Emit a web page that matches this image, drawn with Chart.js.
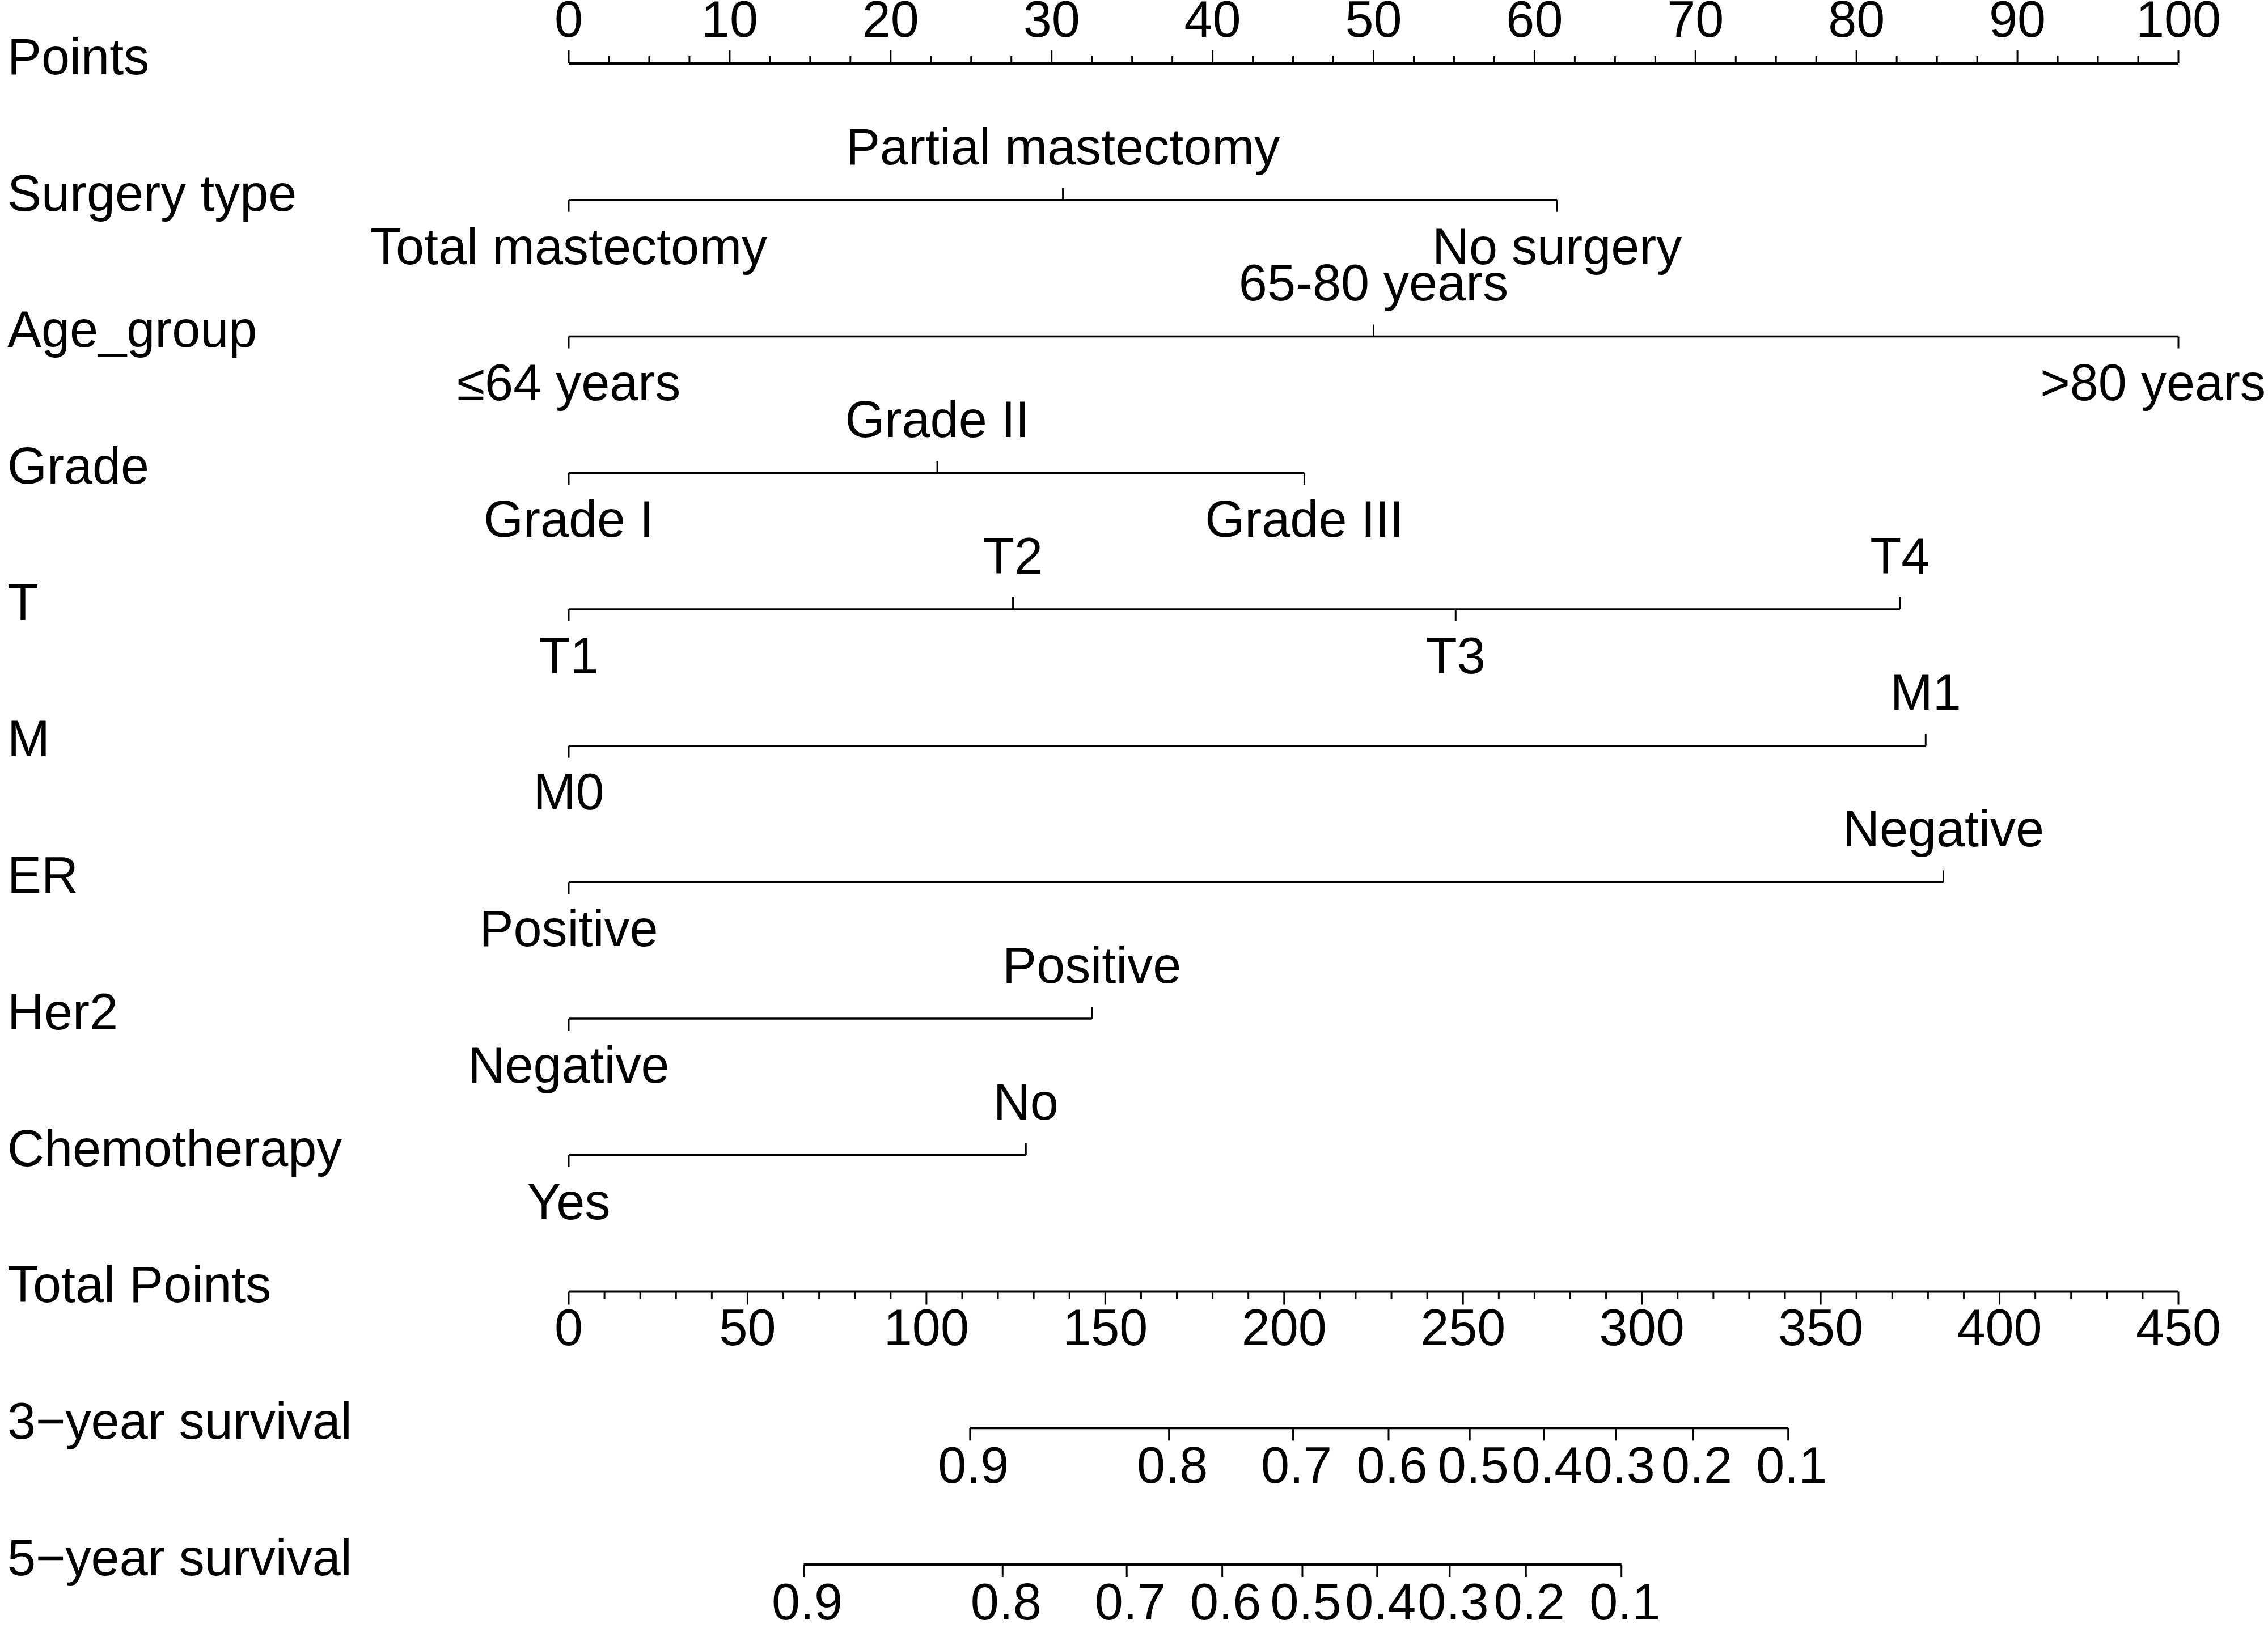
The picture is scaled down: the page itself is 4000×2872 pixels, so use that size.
<!DOCTYPE html>
<html>
<head>
<meta charset="utf-8">
<script src="https://cdn.jsdelivr.net/npm/chart.js@4.4.1/dist/chart.umd.min.js"></script>
<style>
  body { margin: 0; background: #fff; }
  #wrap { width: 4000px; height: 2872px; position: relative; }
</style>
</head>
<body>
<div id="wrap"><canvas id="myChart"></canvas></div>
<script>
// rows of the nomogram, top to bottom
var rowNames = ['Points', 'Surgery type', 'Age_group', 'Grade', 'T', 'M', 'ER', 'Her2', 'Chemotherapy',
  'Total Points', '3\u2212year survival', '5\u2212year survival']

var pointsTicks = [0, 10, 20, 30, 40, 50, 60, 70, 80, 90, 100]
var totalTicks = [0, 50, 100, 150, 200, 250, 300, 350, 400, 450]

var surgeryLevels = ['Total mastectomy', 'Partial mastectomy', 'No surgery']
var surgeryPoints = [0, 30.7, 61.4]
var ageLevels = ['\u226464 years', '65-80 years', '>80 years']
var agePoints = [0, 50, 100]
var gradeLevels = ['Grade I', 'Grade II', 'Grade III']
var gradePoints = [0, 22.9, 45.7]
var tLevels = ['T1', 'T2', 'T3', 'T4']
var tPoints = [0, 27.6, 55.1, 82.7]
var mLevels = ['M0', 'M1']
var mPoints = [0, 84.3]
var erLevels = ['Positive', 'Negative']
var erPoints = [0, 85.4]
var her2Levels = ['Negative', 'Positive']
var her2Points = [0, 32.5]
var chemoLevels = ['Yes', 'No']
var chemoPoints = [0, 28.4]

// survival probabilities and where they fall on the total points scale
var survLabels = ['0.9', '0.8', '0.7', '0.6', '0.5', '0.4', '0.3', '0.2', '0.1']
var surv3Points = [112.2, 167.8, 202.5, 229.2, 251.9, 272.6, 292.8, 314.4, 340.9]
var surv5Points = [65.7, 121.3, 156.0, 182.7, 205.1, 226.0, 246.3, 267.6, 294.3]

var variables = [
  { row: 1, levels: surgeryLevels, pts: surgeryPoints },
  { row: 2, levels: ageLevels, pts: agePoints },
  { row: 3, levels: gradeLevels, pts: gradePoints },
  { row: 4, levels: tLevels, pts: tPoints },
  { row: 5, levels: mLevels, pts: mPoints },
  { row: 6, levels: erLevels, pts: erPoints },
  { row: 7, levels: her2Levels, pts: her2Points },
  { row: 8, levels: chemoLevels, pts: chemoPoints }
]
var survRows = [
  { row: 10, pts: surv3Points },
  { row: 11, pts: surv5Points }
]

var FONT = '90px "Liberation Sans", Arial, sans-serif'

function lineSet(row, xs, axis, width) {
  return {
    data: xs.map(function (x) { return { x: x, y: row } }),
    xAxisID: axis,
    borderColor: '#000',
    borderWidth: width,
    pointRadius: 0,
    fill: false,
    clip: false
  }
}

var datasets = []
datasets.push(lineSet(0, [pointsTicks[0], pointsTicks[pointsTicks.length - 1]], 'x', 4))
variables.forEach(function (v) {
  datasets.push(lineSet(v.row, [v.pts[0], v.pts[v.pts.length - 1]], 'x', 3.5))
})
datasets.push(lineSet(9, [totalTicks[0], totalTicks[totalTicks.length - 1]], 'xt', 4))
survRows.forEach(function (s) {
  datasets.push(lineSet(s.row, [s.pts[0], s.pts[s.pts.length - 1]], 'xt', 4))
})

function drawText(ctx, txt, x, y, align) {
  ctx.textAlign = align || 'center'
  if (!align) {
    var w = ctx.measureText(txt).width
    if (x + w / 2 > 3996) x = 3996 - w / 2
  }
  ctx.fillText(txt, x, y)
}

// ticks and text, positioned through the chart's own scales
var nomoPlugin = {
  id: 'nomo',
  afterDatasetsDraw: function (chart) {
    var ctx = chart.ctx
    var xs = chart.scales.x, xt = chart.scales.xt, ys = chart.scales.y
    ctx.save()
    ctx.strokeStyle = '#000'
    ctx.fillStyle = '#000'
    ctx.lineWidth = 3
    ctx.font = FONT
    ctx.textBaseline = 'middle'

    function tick(px, py, len) {
      ctx.beginPath()
      ctx.moveTo(px, py)
      ctx.lineTo(px, py + len)
      ctx.stroke()
    }

    // row names
    rowNames.forEach(function (n, i) {
      drawText(ctx, n, 13, ys.getPixelForValue(i) - 6, 'left')
    })

    // points axis, ticks up
    var y0 = ys.getPixelForValue(0)
    for (var v = 0; v <= 100; v += 2.5) {
      tick(xs.getPixelForValue(v), y0, v % 10 === 0 ? -23 : -13)
    }
    pointsTicks.forEach(function (t) {
      drawText(ctx, String(t), xs.getPixelForValue(t), y0 - 72)
    })

    // variables, labels alternate below / above
    variables.forEach(function (vr) {
      var yy = ys.getPixelForValue(vr.row)
      vr.pts.forEach(function (p, k) {
        var px = xs.getPixelForValue(p)
        var dir = k % 2 === 0 ? 1 : -1
        tick(px, yy, dir * 21)
        drawText(ctx, vr.levels[k], px, yy + dir * 88)
      })
    })

    // total points axis, ticks down
    var y9 = ys.getPixelForValue(9)
    for (var t = 0; t <= 450; t += 10) {
      tick(xt.getPixelForValue(t), y9, t % 50 === 0 ? 23 : 13)
    }
    totalTicks.forEach(function (t) {
      drawText(ctx, String(t), xt.getPixelForValue(t), y9 + 70)
    })

    // survival scales
    survRows.forEach(function (s) {
      var yy = ys.getPixelForValue(s.row)
      s.pts.forEach(function (p, k) {
        var px = xt.getPixelForValue(p)
        tick(px, yy, 22)
        drawText(ctx, survLabels[k], px + 6, yy + 72)
      })
    })
    ctx.restore()
  }
}

var ctx = document.getElementById('myChart').getContext('2d')
var chart = new Chart(ctx, {
  type: 'line',
  data: { datasets: datasets },
  options: {
    responsive: true,
    maintainAspectRatio: false,
    devicePixelRatio: 1,
    animation: false,
    layout: { padding: { left: 1003, right: 158, top: 112, bottom: 112 } },
    plugins: { legend: { display: false }, tooltip: { enabled: false } },
    scales: {
      x: { type: 'linear', min: 0, max: 100, display: false },
      xt: { type: 'linear', axis: 'x', min: 0, max: 450, display: false },
      y: { type: 'linear', min: 0, max: 11, reverse: true, display: false }
    }
  },
  plugins: [nomoPlugin]
})
</script>
</body>
</html>
